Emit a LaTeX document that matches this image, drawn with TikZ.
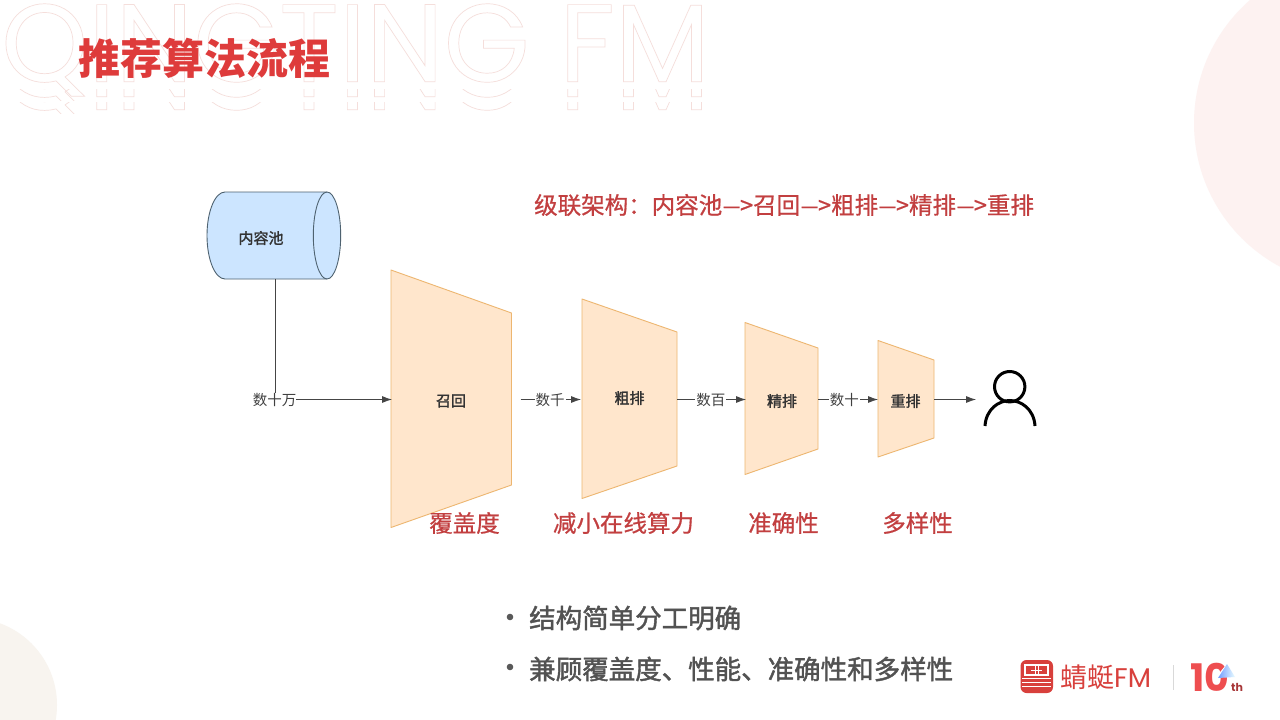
\documentclass[tikz,border=0pt]{standalone}
\usepackage{fontspec}
\setmainfont{Noto Sans CJK SC}
\newfontfamily\wmfont{Poppins}
\newfontfamily\noteface[FakeBold=0.7]{Noto Sans CJK SC}
\newfontfamily\midface[FakeBold=1.6]{Noto Sans CJK SC}
\usetikzlibrary{shapes.geometric,calc,arrows.meta,positioning}
\definecolor{wmpink}{HTML}{F5DEDB}
\definecolor{titlered}{HTML}{DE3B3B}
\definecolor{notered}{HTML}{C23F40}
\definecolor{funnelfill}{HTML}{FFE6CC}
\definecolor{funnelline}{HTML}{EDB670}
\definecolor{poolfill}{HTML}{CCE5FF}
\definecolor{poolline}{HTML}{4E6270}
\definecolor{flowgray}{HTML}{454545}
\definecolor{logored}{HTML}{D8403C}
\definecolor{tenred}{HTML}{EE4E50}
\definecolor{cornerpink}{HTML}{FDF2F1}
\definecolor{cornertan}{HTML}{F8F4EF}
\newcommand{\wmtext}{{\fontsize{110.5}{111}\wmfont\special{pdf:code q 1 Tr 0.7 w}QINGTING FM\special{pdf:code Q}}}
\newcommand{\thento}{\scalebox{1.5}[1]{–}\kern-1pt>}
\begin{document}
\begin{tikzpicture}[x=1pt,y=-1pt,
  funnel/.style={draw=funnelline, fill=funnelfill, line width=0.9pt, line join=round},
  boxlabel/.style={inner sep=0pt, font=\fontsize{15}{15}\midface, text=black!80},
  edgelabel/.style={fill=white, inner sep=1pt, font=\fontsize{14.5}{15}\selectfont, text=black!75},
  flow/.style={draw=flowgray, line width=0.8pt, -{Latex[length=10pt,width=7pt]}},
  rednote/.style={inner sep=0pt, text=notered, font=\fontsize{23.5}{24}\noteface},
  bullettext/.style={inner sep=0pt, anchor=west, text=black!68, font=\fontsize{26.5}{27}\midface}]
\useasboundingbox (0,0) rectangle (1280,720);
\fill[white] (0,0) rectangle (1280,720);
\fill[cornerpink] (1357,123) circle (163);
\fill[cornertan] (-30,705) circle (87);
\node[inner sep=0pt, anchor=west, text=wmpink] (wmark) at (1,50) {\wmtext};
\begin{scope}
\clip (0,89) rectangle (720,100.5);
\node[inner sep=0pt, anchor=west, text=wmpink] (wmarka) at (1,65) {\wmtext};
\end{scope}
\begin{scope}
\clip (0,102) rectangle (720,113.5);
\node[inner sep=0pt, anchor=west, text=wmpink] (wmarkb) at (1,78) {\wmtext};
\end{scope}
\node[inner sep=0pt, anchor=west, text=titlered, font=\fontsize{42}{42}\selectfont\bfseries] (title) at (78,58) {推荐算法流程};
\draw[draw=poolline, fill=poolfill, line width=0.9pt] (225,192) -- (327,192) arc[start angle=-90, end angle=90, x radius=13.7, y radius=43.5] -- (225,279) arc[start angle=90, end angle=270, x radius=18, y radius=43.5] -- cycle;
\draw[draw=poolline, line width=0.9pt] (327,279) arc[start angle=90, end angle=270, x radius=13.7, y radius=43.5];
\coordinate (pool) at (275,279);
\node[boxlabel] (poollabel) at (261,238) {内容池};
\draw[funnel] (391,270) -- (511.5,313) -- (511.5,485) -- (391,527.5) -- cycle;
\draw[funnel] (582,299) -- (677,332) -- (677,466) -- (582,498.5) -- cycle;
\draw[funnel] (745,322.5) -- (818,348) -- (818,449) -- (745,474.5) -- cycle;
\draw[funnel] (878,340.5) -- (934,360) -- (934,438) -- (878,457) -- cycle;
\node[boxlabel] (recall) at (451,401) {召回};
\node[boxlabel] (rough) at (629.5,398) {粗排};
\node[boxlabel] (fine) at (782,401) {精排};
\node[boxlabel] (rerank) at (905.5,401) {重排};
\coordinate (recallin) at (392,399.5);
\coordinate (recallout) at (520.5,399.5);
\coordinate (roughin) at (581,399.5);
\coordinate (roughout) at (677,399.5);
\coordinate (finein) at (746,399.5);
\coordinate (fineout) at (818,399.5);
\coordinate (rerankin) at (878,399.5);
\coordinate (rerankout) at (934,399.5);
\coordinate (userin) at (976,399.5);
\node[edgelabel, fill=none, inner sep=0pt] (hundredk) at (274.5,399.5) {数十万};
\draw[draw=flowgray, line width=0.8pt] (pool) -- (pool |- hundredk.north);
\draw[flow] (hundredk.east) -- (recallin);
\draw[flow] (recallout) -- node[edgelabel, pos=0.49] (thousands) {数千} (roughin);
\draw[flow] (roughout) -- node[edgelabel, pos=0.49] (hundreds) {数百} (finein);
\draw[flow] (fineout) -- node[edgelabel, pos=0.44] (tens) {数十} (rerankin);
\draw[flow] (rerankout) -- (userin);
\draw[black, line width=3pt] (1009.7,386.7) circle (15.2);
\draw[black, line width=3pt] (985,426) .. controls (986,409) and (999,400.5) .. (1009.7,400.5) .. controls (1021,400.5) and (1034,409) .. (1035,426);
\node[rednote, anchor=west] (cascade) at (534,205) {级联架构：内容池\thento 召回\thento 粗排\thento 精排\thento 重排};
\node[rednote] (coverage) at (464.5,523) {覆盖度};
\node[rednote] (compute) at (623.5,523) {减小在线算力};
\node[rednote] (accuracy) at (783.5,523) {准确性};
\node[rednote] (variety) at (917.5,523) {多样性};
\fill[black!65] (510,617) circle (3.3);
\fill[black!65] (510,667) circle (3.3);
\node[bullettext] (simple) at (529,618) {结构简单分工明确};
\node[bullettext] (balance) at (529,669) {兼顾覆盖度、性能、准确性和多样性};
\fill[logored, rounded corners=6pt] (1020.5,660) rectangle (1053,693);
\draw[white, line width=1.2pt] (1025,665) rectangle (1048,675);
\draw[white, line width=1pt] (1035,666) -- (1035,674) (1038.5,666) -- (1038.5,674) (1031,670) -- (1042,670);
\draw[white, line width=1pt] (1022,678) -- (1051,678) (1022,682) -- (1051,682) (1022,686) -- (1051,686);
\node[inner sep=0pt, anchor=west, text=logored, font=\fontsize{27}{27}\selectfont] (logotext) at (1060,677.5) {蜻蜓{\wmfont FM}};
\draw[black!15, line width=0.8pt] (1173,665) -- (1173,690);
\node[inner sep=0pt, anchor=west, text=tenred, font=\fontsize{38}{38}\wmfont\bfseries] (tenyear) at (1190,677) {10};
\fill[white] (1216,677) -- (1230,660) -- (1236,677) -- cycle;
\shade[left color=blue!70!cyan!55, right color=blue!10!cyan!8] (1218,678) -- (1227,664) -- (1235,677) -- cycle;
\node[inner sep=0pt, anchor=west, text=tenred!70!black, font=\fontsize{11}{11}\wmfont\bfseries] (tenth) at (1231,687) {th};
\end{tikzpicture}
\end{document}
